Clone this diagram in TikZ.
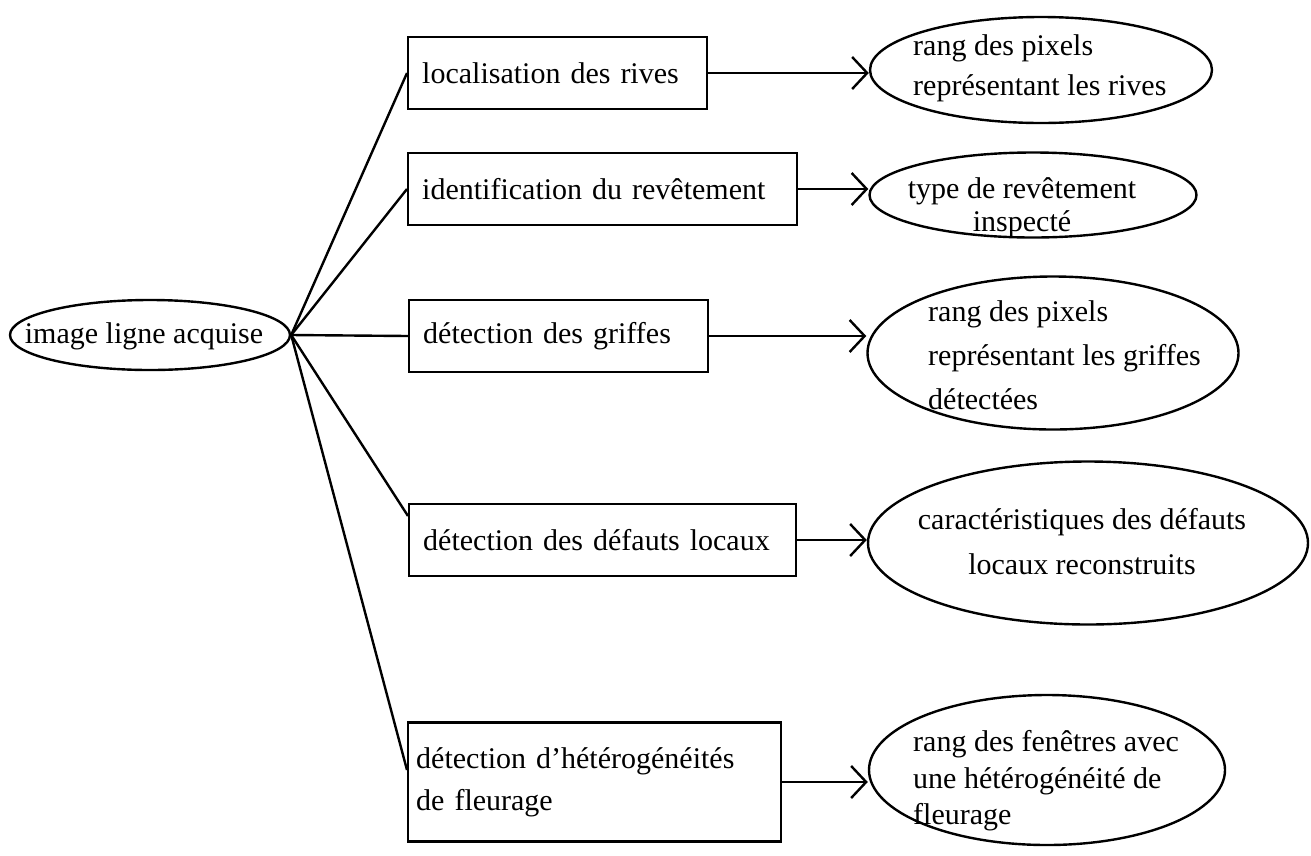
\documentclass[tikz,border=0pt]{standalone}
\usepackage{fontspec}
\setmainfont{Liberation Serif}
\usetikzlibrary{shapes.geometric, arrows.meta}

\begin{document}
\begin{tikzpicture}[
        x=1pt, y=-1pt,
        font=\fontsize{30}{42}\selectfont,
        box/.style={draw, line width=2.4pt, anchor=west, inner xsep=14pt, minimum height=72pt, align=left},
        ell/.style={draw, ellipse, line width=2.4pt, inner sep=0pt},
        lbl/.style={inner sep=0pt},
        lnk/.style={line width=2.4pt},
        arr/.style={-{Straight Barb[length=15pt, width=32pt]}, line width=2.4pt}
    ]
    \useasboundingbox (0,0) rectangle (1311,855);

    % entree
    \node[ell, minimum width=280pt, minimum height=70pt] (img) at (150,335) {};
    \node[lbl] (imgt) at (144,336) {image ligne acquise};

    % traitements
    \node[box, text width=271pt] (riv) at (407,73)  {localisation des rives};
    \node[box, text width=361pt] (rev) at (407,189) {identification du revêtement};
    \node[box, text width=271pt] (gri) at (408,336) {détection des griffes};
    \node[box, text width=359pt] (def) at (408,540) {détection des défauts locaux};
    \node[box, text width=357pt, inner xsep=8pt, minimum height=119pt] (fle) at (407,782)
        {détection d'hétérogénéités\\de fleurage};

    % resultats
    \node[ell, minimum width=342pt, minimum height=106pt] (oriv) at (1041,70) {};
    \node[lbl, anchor=west, align=left, font=\fontsize{30}{40}\selectfont] (orivt) at (913,68)
        {rang des pixels\\représentant les rives};
    \node[ell, minimum width=327pt, minimum height=85pt] (orev) at (1033,195) {};
    \node[lbl, align=center, font=\fontsize{30}{33}\selectfont] (orevt) at (1022,208)
        {type de revêtement\\inspecté};
    \node[ell, minimum width=371pt, minimum height=153pt] (ogri) at (1053,353) {};
    \node[lbl, anchor=west, align=left, font=\fontsize{30}{44}\selectfont] (ogrit) at (928,355)
        {rang des pixels\\représentant les griffes\\détectées};
    \node[ell, minimum width=440pt, minimum height=163pt] (odef) at (1088,543) {};
    \node[lbl, align=center, font=\fontsize{30}{45}\selectfont] (odeft) at (1082,542)
        {caractéristiques des défauts\\locaux reconstruits};
    \node[ell, minimum width=356pt, minimum height=150pt] (ofle) at (1047,770) {};
    \node[lbl, anchor=west, align=left, font=\fontsize{30}{36.5}\selectfont] (oflet) at (913,781)
        {rang des fenêtres avec\\une hétérogénéité de\\fleurage};

    % liens
    \draw[lnk] (img.east) -- (riv.west);
    \draw[lnk] (img.east) -- (rev.west);
    \draw[lnk] (img.east) -- (gri.west);
    \draw[lnk] (img.east) -- ([yshift=24pt]def.west);
    \draw[lnk] (img.east) -- ([yshift=12pt]fle.west);

    \draw[arr] (riv.east) -- (riv.east -| oriv.west);
    \draw[arr] (rev.east) -- (rev.east -| orev.west);
    \draw[arr] (gri.east) -- (gri.east -| ogri.west);
    \draw[arr] (def.east) -- (def.east -| odef.west);
    \draw[arr] (fle.east) -- (fle.east -| ofle.west);
\end{tikzpicture}
\end{document}
